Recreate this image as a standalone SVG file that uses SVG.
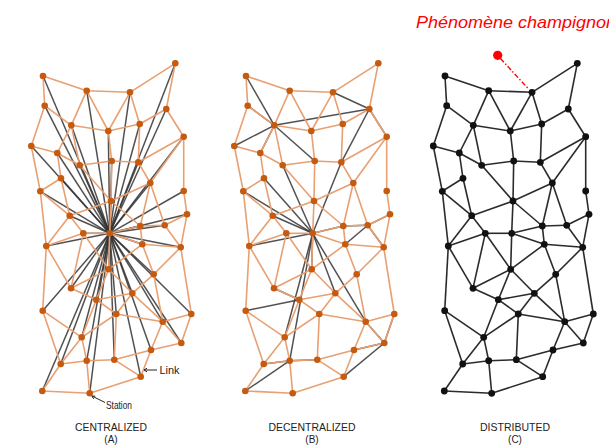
<svg xmlns="http://www.w3.org/2000/svg" xmlns:xlink="http://www.w3.org/1999/xlink" width="609" height="445" viewBox="0 0 609 445">
<style>
.lbl{font-family:"Liberation Sans",Arial,sans-serif;fill:#222}
.cap{font-size:10.8px}
.par{font-size:10px}
.small{font-size:11.5px}
.on circle{fill:#C55A11}
.bn circle{fill:#111}
.lk line{stroke:#333;stroke-width:1.5;stroke-opacity:0.85}
</style>
<defs>
<g id="mesh">
<line x1="43" y1="76" x2="86.7" y2="90.7"/><line x1="43" y1="76" x2="44.7" y2="105.7"/><line x1="86.7" y1="90.7" x2="130" y2="92.3"/><line x1="175.3" y1="63.3" x2="130" y2="92.3"/><line x1="175.3" y1="63.3" x2="166.3" y2="109"/><line x1="86.7" y1="90.7" x2="71.3" y2="125.3"/><line x1="86.7" y1="90.7" x2="108.3" y2="131"/><line x1="130" y1="92.3" x2="108.3" y2="131"/><line x1="130" y1="92.3" x2="139.7" y2="124"/><line x1="44.7" y1="105.7" x2="71.3" y2="125.3"/><line x1="44.7" y1="105.7" x2="31.3" y2="146"/><line x1="71.3" y1="125.3" x2="108.3" y2="131"/><line x1="108.3" y1="131" x2="139.7" y2="124"/><line x1="166.3" y1="109" x2="139.7" y2="124"/><line x1="166.3" y1="109" x2="183.7" y2="136.7"/><line x1="71.3" y1="125.3" x2="57.3" y2="153"/><line x1="71.3" y1="125.3" x2="79.7" y2="165.3"/><line x1="108.3" y1="131" x2="111.7" y2="161"/><line x1="139.7" y1="124" x2="138.3" y2="162.3"/><line x1="31.3" y1="146" x2="57.3" y2="153"/><line x1="31.3" y1="146" x2="40.3" y2="191.3"/><line x1="57.3" y1="153" x2="79.7" y2="165.3"/><line x1="57.3" y1="153" x2="61" y2="178.3"/><line x1="79.7" y1="165.3" x2="111.7" y2="161"/><line x1="111.7" y1="161" x2="138.3" y2="162.3"/><line x1="183.7" y1="136.7" x2="138.3" y2="162.3"/><line x1="183.7" y1="136.7" x2="150.3" y2="183"/><line x1="183.7" y1="136.7" x2="183.7" y2="191"/><line x1="79.7" y1="165.3" x2="111" y2="201"/><line x1="111.7" y1="161" x2="111" y2="201"/><line x1="138.3" y1="162.3" x2="150.3" y2="183"/><line x1="61" y1="178.3" x2="40.3" y2="191.3"/><line x1="61" y1="178.3" x2="69.7" y2="215.7"/><line x1="150.3" y1="183" x2="111" y2="201"/><line x1="150.3" y1="183" x2="140.3" y2="226"/><line x1="150.3" y1="183" x2="164.7" y2="225.3"/><line x1="40.3" y1="191.3" x2="69.7" y2="215.7"/><line x1="40.3" y1="191.3" x2="46.3" y2="246"/><line x1="183.7" y1="191" x2="187" y2="214.3"/><line x1="111" y1="201" x2="69.7" y2="215.7"/><line x1="111" y1="201" x2="140.3" y2="226"/><line x1="111" y1="201" x2="109.7" y2="233.3"/><line x1="187" y1="214.3" x2="164.7" y2="225.3"/><line x1="69.7" y1="215.7" x2="83.3" y2="233.3"/><line x1="69.7" y1="215.7" x2="46.3" y2="246"/><line x1="140.3" y1="226" x2="164.7" y2="225.3"/><line x1="140.3" y1="226" x2="109.7" y2="233.3"/><line x1="140.3" y1="226" x2="142.3" y2="244.3"/><line x1="164.7" y1="225.3" x2="180.7" y2="247.3"/><line x1="187" y1="214.3" x2="180.7" y2="247.3"/><line x1="83.3" y1="233.3" x2="109.7" y2="233.3"/><line x1="83.3" y1="233.3" x2="46.3" y2="246"/><line x1="109.7" y1="233.3" x2="142.3" y2="244.3"/><line x1="142.3" y1="244.3" x2="180.7" y2="247.3"/><line x1="83.3" y1="233.3" x2="71" y2="288.3"/><line x1="83.3" y1="233.3" x2="108.7" y2="269.3"/><line x1="109.7" y1="233.3" x2="108.7" y2="269.3"/><line x1="46.3" y1="246" x2="71" y2="288.3"/><line x1="46.3" y1="246" x2="42.7" y2="310.7"/><line x1="142.3" y1="244.3" x2="108.7" y2="269.3"/><line x1="142.3" y1="244.3" x2="153.7" y2="274.3"/><line x1="180.7" y1="247.3" x2="153.7" y2="274.3"/><line x1="180.7" y1="247.3" x2="191.3" y2="314"/><line x1="108.7" y1="269.3" x2="71" y2="288.3"/><line x1="108.7" y1="269.3" x2="132.3" y2="293.3"/><line x1="108.7" y1="269.3" x2="96.3" y2="299.7"/><line x1="153.7" y1="274.3" x2="132.3" y2="293.3"/><line x1="153.7" y1="274.3" x2="162.7" y2="321.7"/><line x1="71" y1="288.3" x2="96.3" y2="299.7"/><line x1="132.3" y1="293.3" x2="96.3" y2="299.7"/><line x1="132.3" y1="293.3" x2="116.3" y2="314"/><line x1="132.3" y1="293.3" x2="162.7" y2="321.7"/><line x1="96.3" y1="299.7" x2="116.3" y2="314"/><line x1="96.3" y1="299.7" x2="81.7" y2="337.3"/><line x1="42.7" y1="310.7" x2="81.7" y2="337.3"/><line x1="42.7" y1="310.7" x2="60.7" y2="364"/><line x1="116.3" y1="314" x2="162.7" y2="321.7"/><line x1="116.3" y1="314" x2="81.7" y2="337.3"/><line x1="116.3" y1="314" x2="114.3" y2="359.7"/><line x1="191.3" y1="314" x2="162.7" y2="321.7"/><line x1="191.3" y1="314" x2="181.3" y2="343"/><line x1="162.7" y1="321.7" x2="181.3" y2="343"/><line x1="162.7" y1="321.7" x2="151" y2="350"/><line x1="81.7" y1="337.3" x2="60.7" y2="364"/><line x1="81.7" y1="337.3" x2="86.7" y2="360.7"/><line x1="181.3" y1="343" x2="151" y2="350"/><line x1="151" y1="350" x2="114.3" y2="359.7"/><line x1="151" y1="350" x2="140.7" y2="376.7"/><line x1="60.7" y1="364" x2="86.7" y2="360.7"/><line x1="60.7" y1="364" x2="42.3" y2="391"/><line x1="86.7" y1="360.7" x2="114.3" y2="359.7"/><line x1="86.7" y1="360.7" x2="89.7" y2="393.3"/><line x1="114.3" y1="359.7" x2="140.7" y2="376.7"/><line x1="140.7" y1="376.7" x2="89.7" y2="393.3"/><line x1="42.3" y1="391" x2="89.7" y2="393.3"/>
</g>
</defs>

<g id="connectors">
  <g id="links-a" class="lk">
    <line x1="109.7" y1="233.3" x2="43" y2="76"/><line x1="109.7" y1="233.3" x2="175.3" y2="63.3"/><line x1="109.7" y1="233.3" x2="86.7" y2="90.7"/><line x1="109.7" y1="233.3" x2="130" y2="92.3"/><line x1="109.7" y1="233.3" x2="44.7" y2="105.7"/><line x1="109.7" y1="233.3" x2="166.3" y2="109"/><line x1="109.7" y1="233.3" x2="71.3" y2="125.3"/><line x1="109.7" y1="233.3" x2="108.3" y2="131"/><line x1="109.7" y1="233.3" x2="139.7" y2="124"/><line x1="109.7" y1="233.3" x2="31.3" y2="146"/><line x1="109.7" y1="233.3" x2="183.7" y2="136.7"/><line x1="109.7" y1="233.3" x2="57.3" y2="153"/><line x1="109.7" y1="233.3" x2="79.7" y2="165.3"/><line x1="109.7" y1="233.3" x2="111.7" y2="161"/><line x1="109.7" y1="233.3" x2="138.3" y2="162.3"/><line x1="109.7" y1="233.3" x2="61" y2="178.3"/><line x1="109.7" y1="233.3" x2="150.3" y2="183"/><line x1="109.7" y1="233.3" x2="40.3" y2="191.3"/><line x1="109.7" y1="233.3" x2="183.7" y2="191"/><line x1="109.7" y1="233.3" x2="111" y2="201"/><line x1="109.7" y1="233.3" x2="187" y2="214.3"/><line x1="109.7" y1="233.3" x2="69.7" y2="215.7"/><line x1="109.7" y1="233.3" x2="140.3" y2="226"/><line x1="109.7" y1="233.3" x2="164.7" y2="225.3"/><line x1="109.7" y1="233.3" x2="83.3" y2="233.3"/><line x1="109.7" y1="233.3" x2="46.3" y2="246"/><line x1="109.7" y1="233.3" x2="142.3" y2="244.3"/><line x1="109.7" y1="233.3" x2="180.7" y2="247.3"/><line x1="109.7" y1="233.3" x2="108.7" y2="269.3"/><line x1="109.7" y1="233.3" x2="153.7" y2="274.3"/><line x1="109.7" y1="233.3" x2="71" y2="288.3"/><line x1="109.7" y1="233.3" x2="132.3" y2="293.3"/><line x1="109.7" y1="233.3" x2="96.3" y2="299.7"/><line x1="109.7" y1="233.3" x2="42.7" y2="310.7"/><line x1="109.7" y1="233.3" x2="116.3" y2="314"/><line x1="109.7" y1="233.3" x2="191.3" y2="314"/><line x1="109.7" y1="233.3" x2="162.7" y2="321.7"/><line x1="109.7" y1="233.3" x2="81.7" y2="337.3"/><line x1="109.7" y1="233.3" x2="181.3" y2="343"/><line x1="109.7" y1="233.3" x2="151" y2="350"/><line x1="109.7" y1="233.3" x2="60.7" y2="364"/><line x1="109.7" y1="233.3" x2="86.7" y2="360.7"/><line x1="109.7" y1="233.3" x2="114.3" y2="359.7"/><line x1="109.7" y1="233.3" x2="140.7" y2="376.7"/><line x1="109.7" y1="233.3" x2="42.3" y2="391"/><line x1="109.7" y1="233.3" x2="89.7" y2="393.3"/>
  </g>
  <g id="links-b" class="lk" transform="translate(203,0)">
    <line x1="71.3" y1="125.3" x2="43" y2="76"/><line x1="71.3" y1="125.3" x2="44.7" y2="105.7"/><line x1="71.3" y1="125.3" x2="31.3" y2="146"/><line x1="71.3" y1="125.3" x2="57.3" y2="153"/><line x1="71.3" y1="125.3" x2="111.7" y2="161"/><line x1="71.3" y1="125.3" x2="166.3" y2="109"/>
    <line x1="166.3" y1="109" x2="130" y2="92.3"/><line x1="166.3" y1="109" x2="183.7" y2="136.7"/><line x1="166.3" y1="109" x2="138.3" y2="162.3"/>
    <line x1="109.7" y1="233.3" x2="61" y2="178.3"/><line x1="109.7" y1="233.3" x2="40.3" y2="191.3"/><line x1="109.7" y1="233.3" x2="79.7" y2="165.3"/><line x1="109.7" y1="233.3" x2="138.3" y2="162.3"/><line x1="109.7" y1="233.3" x2="69.7" y2="215.7"/><line x1="109.7" y1="233.3" x2="46.3" y2="246"/><line x1="109.7" y1="233.3" x2="140.3" y2="226"/><line x1="109.7" y1="233.3" x2="108.7" y2="269.3"/><line x1="109.7" y1="233.3" x2="132.3" y2="293.3"/><line x1="109.7" y1="233.3" x2="162.7" y2="321.7"/><line x1="109.7" y1="233.3" x2="86.7" y2="360.7"/><line x1="109.7" y1="233.3" x2="81.7" y2="337.3"/>
    <line x1="164.7" y1="225.3" x2="142.3" y2="244.3"/><line x1="164.7" y1="225.3" x2="187" y2="214.3"/><line x1="164.7" y1="225.3" x2="180.7" y2="247.3"/><line x1="164.7" y1="225.3" x2="140.3" y2="226"/>
    <line x1="181.3" y1="343" x2="191.3" y2="314"/><line x1="181.3" y1="343" x2="162.7" y2="321.7"/><line x1="181.3" y1="343" x2="151" y2="350"/><line x1="181.3" y1="343" x2="140.7" y2="376.7"/>
    <line x1="86.7" y1="360.7" x2="60.7" y2="364"/><line x1="86.7" y1="360.7" x2="114.3" y2="359.7"/><line x1="86.7" y1="360.7" x2="42.3" y2="391"/>
    <line x1="42.7" y1="310.7" x2="96.3" y2="299.7"/><line x1="71" y1="288.3" x2="96.3" y2="299.7"/>
  </g>
  <use id="mesh-a" xlink:href="#mesh" stroke="#E8A072" stroke-width="1.6"/>
  <use id="mesh-b" xlink:href="#mesh" transform="translate(203,0)" stroke="#E8A072" stroke-width="1.6"/>
  <use id="mesh-c" xlink:href="#mesh" transform="translate(402,0)" stroke="#2b2b2b" stroke-width="1.6"/>
  <line id="mushroom-link" x1="500.5" y1="58.5" x2="529" y2="89.5" stroke="#FF0000" stroke-width="1.4" stroke-dasharray="5,2,1.5,2"/>
  <g id="leaders" stroke="#222" stroke-width="1" fill="none">
    <path d="M144,370 L157,370"/><path d="M144,370 l3,-1.8 M144,370 l3,1.8"/>
    <path d="M92,396 L105,402.5"/><path d="M92,396 l3.3,0.2 M92,396 l1.6,2.9"/>
  </g>
</g>

<g id="diagram-a" class="on">
<g id="a-n1"><circle cx="43" cy="76" r="3.3"/></g><g id="a-n2"><circle cx="175.3" cy="63.3" r="3.3"/></g><g id="a-n3"><circle cx="86.7" cy="90.7" r="3.3"/></g><g id="a-n4"><circle cx="130" cy="92.3" r="3.3"/></g><g id="a-n5"><circle cx="44.7" cy="105.7" r="3.3"/></g><g id="a-n6"><circle cx="166.3" cy="109" r="3.3"/></g><g id="a-n7"><circle cx="71.3" cy="125.3" r="3.3"/></g><g id="a-n8"><circle cx="108.3" cy="131" r="3.3"/></g><g id="a-n9"><circle cx="139.7" cy="124" r="3.3"/></g><g id="a-n10"><circle cx="31.3" cy="146" r="3.3"/></g><g id="a-n11"><circle cx="183.7" cy="136.7" r="3.3"/></g><g id="a-n12"><circle cx="57.3" cy="153" r="3.3"/></g><g id="a-n13"><circle cx="79.7" cy="165.3" r="3.3"/></g><g id="a-n14"><circle cx="111.7" cy="161" r="3.3"/></g><g id="a-n15"><circle cx="138.3" cy="162.3" r="3.3"/></g><g id="a-n16"><circle cx="61" cy="178.3" r="3.3"/></g><g id="a-n17"><circle cx="150.3" cy="183" r="3.3"/></g><g id="a-n18"><circle cx="40.3" cy="191.3" r="3.3"/></g><g id="a-n19"><circle cx="183.7" cy="191" r="3.3"/></g><g id="a-n20"><circle cx="111" cy="201" r="3.3"/></g><g id="a-n21"><circle cx="187" cy="214.3" r="3.3"/></g><g id="a-n22"><circle cx="69.7" cy="215.7" r="3.3"/></g><g id="a-n23"><circle cx="140.3" cy="226" r="3.3"/></g><g id="a-n24"><circle cx="164.7" cy="225.3" r="3.3"/></g><g id="a-n25"><circle cx="83.3" cy="233.3" r="3.3"/></g><g id="a-n26"><circle cx="109.7" cy="233.3" r="3.3"/></g><g id="a-n27"><circle cx="46.3" cy="246" r="3.3"/></g><g id="a-n28"><circle cx="142.3" cy="244.3" r="3.3"/></g><g id="a-n29"><circle cx="180.7" cy="247.3" r="3.3"/></g><g id="a-n30"><circle cx="108.7" cy="269.3" r="3.3"/></g><g id="a-n31"><circle cx="153.7" cy="274.3" r="3.3"/></g><g id="a-n32"><circle cx="71" cy="288.3" r="3.3"/></g><g id="a-n33"><circle cx="132.3" cy="293.3" r="3.3"/></g><g id="a-n34"><circle cx="96.3" cy="299.7" r="3.3"/></g><g id="a-n35"><circle cx="42.7" cy="310.7" r="3.3"/></g><g id="a-n36"><circle cx="116.3" cy="314" r="3.3"/></g><g id="a-n37"><circle cx="191.3" cy="314" r="3.3"/></g><g id="a-n38"><circle cx="162.7" cy="321.7" r="3.3"/></g><g id="a-n39"><circle cx="81.7" cy="337.3" r="3.3"/></g><g id="a-n40"><circle cx="181.3" cy="343" r="3.3"/></g><g id="a-n41"><circle cx="151" cy="350" r="3.3"/></g><g id="a-n42"><circle cx="60.7" cy="364" r="3.3"/></g><g id="a-n43"><circle cx="86.7" cy="360.7" r="3.3"/></g><g id="a-n44"><circle cx="114.3" cy="359.7" r="3.3"/></g><g id="a-n45"><circle cx="140.7" cy="376.7" r="3.3"/></g><g id="a-n46"><circle cx="42.3" cy="391" r="3.3"/></g><g id="a-n47"><circle cx="89.7" cy="393.3" r="3.3"/></g>
</g>

<g id="diagram-b" class="on" transform="translate(203,0)">
<g id="b-n1"><circle cx="43" cy="76" r="3.3"/></g><g id="b-n2"><circle cx="175.3" cy="63.3" r="3.3"/></g><g id="b-n3"><circle cx="86.7" cy="90.7" r="3.3"/></g><g id="b-n4"><circle cx="130" cy="92.3" r="3.3"/></g><g id="b-n5"><circle cx="44.7" cy="105.7" r="3.3"/></g><g id="b-n6"><circle cx="166.3" cy="109" r="3.3"/></g><g id="b-n7"><circle cx="71.3" cy="125.3" r="3.3"/></g><g id="b-n8"><circle cx="108.3" cy="131" r="3.3"/></g><g id="b-n9"><circle cx="139.7" cy="124" r="3.3"/></g><g id="b-n10"><circle cx="31.3" cy="146" r="3.3"/></g><g id="b-n11"><circle cx="183.7" cy="136.7" r="3.3"/></g><g id="b-n12"><circle cx="57.3" cy="153" r="3.3"/></g><g id="b-n13"><circle cx="79.7" cy="165.3" r="3.3"/></g><g id="b-n14"><circle cx="111.7" cy="161" r="3.3"/></g><g id="b-n15"><circle cx="138.3" cy="162.3" r="3.3"/></g><g id="b-n16"><circle cx="61" cy="178.3" r="3.3"/></g><g id="b-n17"><circle cx="150.3" cy="183" r="3.3"/></g><g id="b-n18"><circle cx="40.3" cy="191.3" r="3.3"/></g><g id="b-n19"><circle cx="183.7" cy="191" r="3.3"/></g><g id="b-n20"><circle cx="111" cy="201" r="3.3"/></g><g id="b-n21"><circle cx="187" cy="214.3" r="3.3"/></g><g id="b-n22"><circle cx="69.7" cy="215.7" r="3.3"/></g><g id="b-n23"><circle cx="140.3" cy="226" r="3.3"/></g><g id="b-n24"><circle cx="164.7" cy="225.3" r="3.3"/></g><g id="b-n25"><circle cx="83.3" cy="233.3" r="3.3"/></g><g id="b-n26"><circle cx="109.7" cy="233.3" r="3.3"/></g><g id="b-n27"><circle cx="46.3" cy="246" r="3.3"/></g><g id="b-n28"><circle cx="142.3" cy="244.3" r="3.3"/></g><g id="b-n29"><circle cx="180.7" cy="247.3" r="3.3"/></g><g id="b-n30"><circle cx="108.7" cy="269.3" r="3.3"/></g><g id="b-n31"><circle cx="153.7" cy="274.3" r="3.3"/></g><g id="b-n32"><circle cx="71" cy="288.3" r="3.3"/></g><g id="b-n33"><circle cx="132.3" cy="293.3" r="3.3"/></g><g id="b-n34"><circle cx="96.3" cy="299.7" r="3.3"/></g><g id="b-n35"><circle cx="42.7" cy="310.7" r="3.3"/></g><g id="b-n36"><circle cx="116.3" cy="314" r="3.3"/></g><g id="b-n37"><circle cx="191.3" cy="314" r="3.3"/></g><g id="b-n38"><circle cx="162.7" cy="321.7" r="3.3"/></g><g id="b-n39"><circle cx="81.7" cy="337.3" r="3.3"/></g><g id="b-n40"><circle cx="181.3" cy="343" r="3.3"/></g><g id="b-n41"><circle cx="151" cy="350" r="3.3"/></g><g id="b-n42"><circle cx="60.7" cy="364" r="3.3"/></g><g id="b-n43"><circle cx="86.7" cy="360.7" r="3.3"/></g><g id="b-n44"><circle cx="114.3" cy="359.7" r="3.3"/></g><g id="b-n45"><circle cx="140.7" cy="376.7" r="3.3"/></g><g id="b-n46"><circle cx="42.3" cy="391" r="3.3"/></g><g id="b-n47"><circle cx="89.7" cy="393.3" r="3.3"/></g>
</g>

<g id="diagram-c" class="bn" transform="translate(402,0)">
<g id="c-n1"><circle cx="43" cy="76" r="3.4"/></g><g id="c-n2"><circle cx="175.3" cy="63.3" r="3.4"/></g><g id="c-n3"><circle cx="86.7" cy="90.7" r="3.4"/></g><g id="c-n4"><circle cx="130" cy="92.3" r="3.4"/></g><g id="c-n5"><circle cx="44.7" cy="105.7" r="3.4"/></g><g id="c-n6"><circle cx="166.3" cy="109" r="3.4"/></g><g id="c-n7"><circle cx="71.3" cy="125.3" r="3.4"/></g><g id="c-n8"><circle cx="108.3" cy="131" r="3.4"/></g><g id="c-n9"><circle cx="139.7" cy="124" r="3.4"/></g><g id="c-n10"><circle cx="31.3" cy="146" r="3.4"/></g><g id="c-n11"><circle cx="183.7" cy="136.7" r="3.4"/></g><g id="c-n12"><circle cx="57.3" cy="153" r="3.4"/></g><g id="c-n13"><circle cx="79.7" cy="165.3" r="3.4"/></g><g id="c-n14"><circle cx="111.7" cy="161" r="3.4"/></g><g id="c-n15"><circle cx="138.3" cy="162.3" r="3.4"/></g><g id="c-n16"><circle cx="61" cy="178.3" r="3.4"/></g><g id="c-n17"><circle cx="150.3" cy="183" r="3.4"/></g><g id="c-n18"><circle cx="40.3" cy="191.3" r="3.4"/></g><g id="c-n19"><circle cx="183.7" cy="191" r="3.4"/></g><g id="c-n20"><circle cx="111" cy="201" r="3.4"/></g><g id="c-n21"><circle cx="187" cy="214.3" r="3.4"/></g><g id="c-n22"><circle cx="69.7" cy="215.7" r="3.4"/></g><g id="c-n23"><circle cx="140.3" cy="226" r="3.4"/></g><g id="c-n24"><circle cx="164.7" cy="225.3" r="3.4"/></g><g id="c-n25"><circle cx="83.3" cy="233.3" r="3.4"/></g><g id="c-n26"><circle cx="109.7" cy="233.3" r="3.4"/></g><g id="c-n27"><circle cx="46.3" cy="246" r="3.4"/></g><g id="c-n28"><circle cx="142.3" cy="244.3" r="3.4"/></g><g id="c-n29"><circle cx="180.7" cy="247.3" r="3.4"/></g><g id="c-n30"><circle cx="108.7" cy="269.3" r="3.4"/></g><g id="c-n31"><circle cx="153.7" cy="274.3" r="3.4"/></g><g id="c-n32"><circle cx="71" cy="288.3" r="3.4"/></g><g id="c-n33"><circle cx="132.3" cy="293.3" r="3.4"/></g><g id="c-n34"><circle cx="96.3" cy="299.7" r="3.4"/></g><g id="c-n35"><circle cx="42.7" cy="310.7" r="3.4"/></g><g id="c-n36"><circle cx="116.3" cy="314" r="3.4"/></g><g id="c-n37"><circle cx="191.3" cy="314" r="3.4"/></g><g id="c-n38"><circle cx="162.7" cy="321.7" r="3.4"/></g><g id="c-n39"><circle cx="81.7" cy="337.3" r="3.4"/></g><g id="c-n40"><circle cx="181.3" cy="343" r="3.4"/></g><g id="c-n41"><circle cx="151" cy="350" r="3.4"/></g><g id="c-n42"><circle cx="60.7" cy="364" r="3.4"/></g><g id="c-n43"><circle cx="86.7" cy="360.7" r="3.4"/></g><g id="c-n44"><circle cx="114.3" cy="359.7" r="3.4"/></g><g id="c-n45"><circle cx="140.7" cy="376.7" r="3.4"/></g><g id="c-n46"><circle cx="42.3" cy="391" r="3.4"/></g><g id="c-n47"><circle cx="89.7" cy="393.3" r="3.4"/></g>
</g>

<g id="mushroom">
  <circle cx="497.7" cy="55.3" r="4.6" fill="#FF0000"/>
  <text x="416" y="28" font-family="'Liberation Sans',Arial,sans-serif" font-style="italic" font-size="17" fill="#FF0000" textLength="200" lengthAdjust="spacingAndGlyphs">Phénomène champignon</text>
</g>

<g id="labels" class="lbl">
  <text class="small" x="159.5" y="374" textLength="20" lengthAdjust="spacingAndGlyphs">Link</text>
  <text class="small" x="106" y="409" textLength="26" lengthAdjust="spacingAndGlyphs">Station</text>
  <text class="cap" x="111" y="431" text-anchor="middle" textLength="72" lengthAdjust="spacingAndGlyphs">CENTRALIZED</text>
  <text class="par" x="111" y="443" text-anchor="middle">(A)</text>
  <text class="cap" x="312" y="431" text-anchor="middle" textLength="87" lengthAdjust="spacingAndGlyphs">DECENTRALIZED</text>
  <text class="par" x="312" y="443" text-anchor="middle">(B)</text>
  <text class="cap" x="515" y="431" text-anchor="middle" textLength="70" lengthAdjust="spacingAndGlyphs">DISTRIBUTED</text>
  <text class="par" x="515" y="443" text-anchor="middle">(C)</text>
</g>
</svg>
